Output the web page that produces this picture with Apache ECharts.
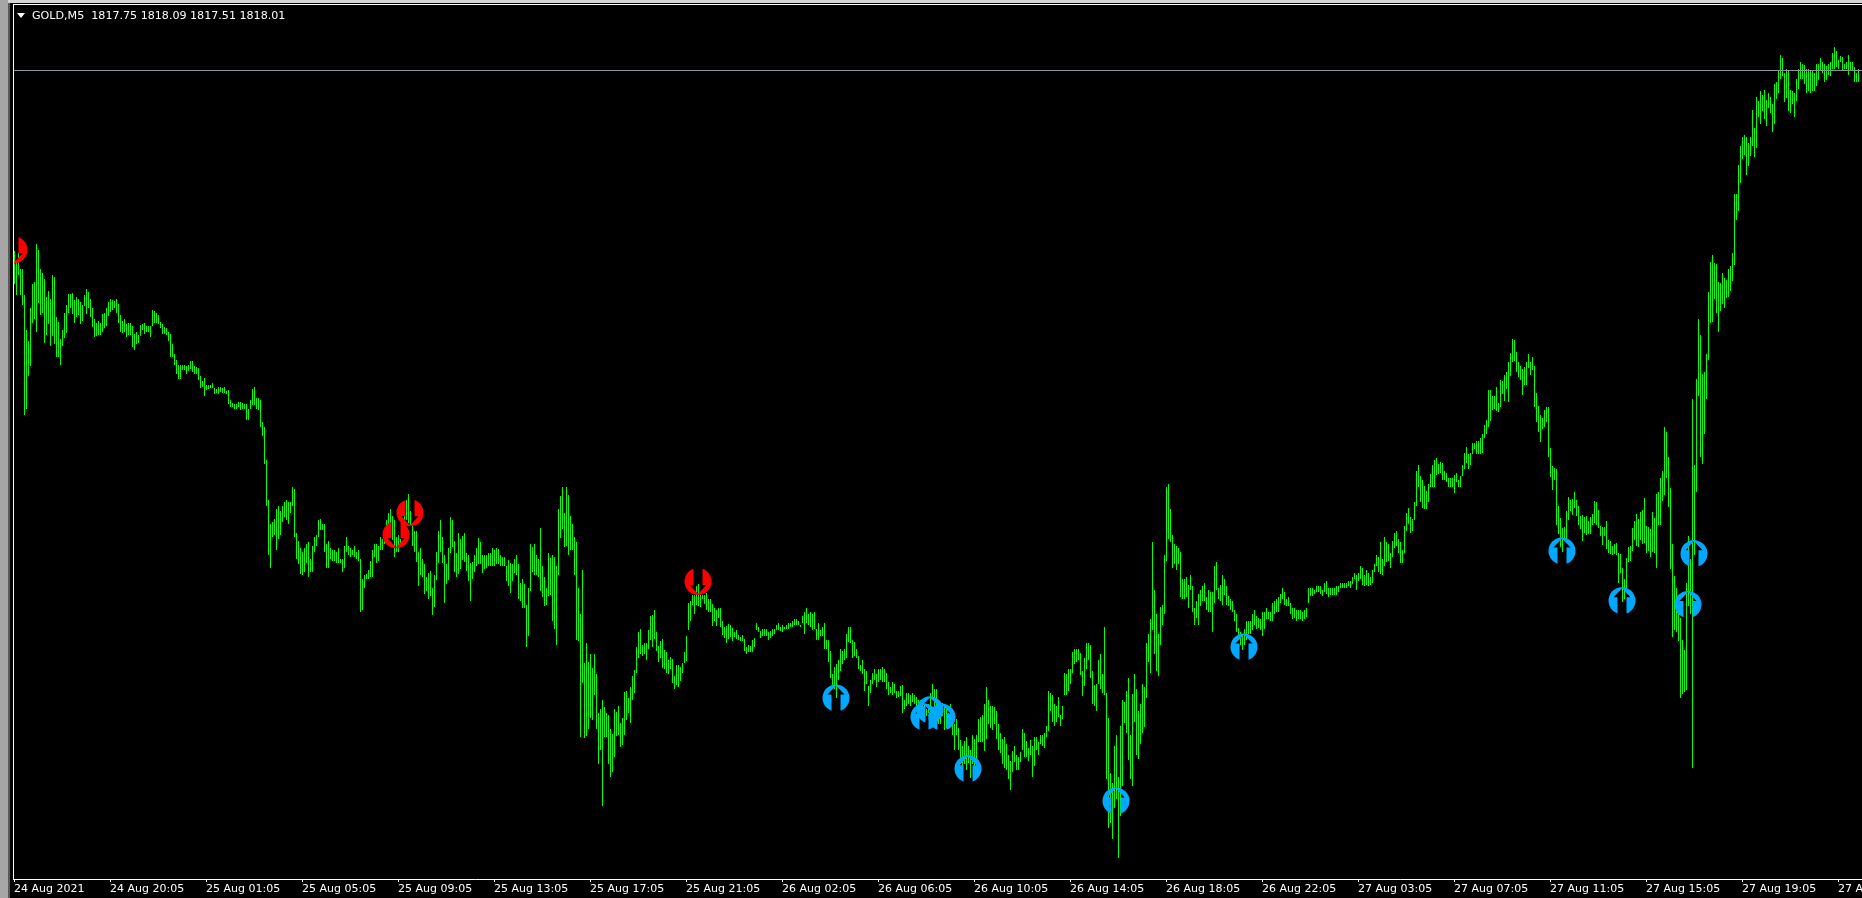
<!DOCTYPE html>
<html>
<head>
<meta charset="UTF-8">
<title>GOLD,M5</title>
<script src="https://cdn.jsdelivr.net/npm/echarts@6/dist/echarts.min.js"></script>
</head>
<body style="margin:0;background:#000;overflow:hidden;">
<div id="container" style="width:1862px;height:898px;"></div>
<script>
var titleText = 'GOLD,M5  1817.75 1818.09 1817.51 1818.01';
var bidPrice = 1818.01;
var tickLabels = ['24 Aug 2021','24 Aug 20:05','25 Aug 01:05','25 Aug 05:05','25 Aug 09:05','25 Aug 13:05','25 Aug 17:05','25 Aug 21:05','26 Aug 02:05','26 Aug 06:05','26 Aug 10:05','26 Aug 14:05','26 Aug 18:05','26 Aug 22:05','27 Aug 03:05','27 Aug 07:05','27 Aug 11:05','27 Aug 15:05','27 Aug 19:05','27 Aug 23:05'];

// [bar index, price]
var sellArrows = [[0,1809.84],[198,1797.89],[191,1796.89],[342,1794.77]];
var buyArrows = [[411,1789.51],[455,1788.65],[464,1788.64],[458,1788.97],[477,1786.29],[551,1784.83],[615,1791.83],[774,1796.19],[804,1793.93],[837,1793.76],[840,1796.07]];

// M5 bars, [high, low]
var highLow = [
[1809.81,1808.29],[1809.35,1807.79],[1809.70,1808.70],[1808.97,1807.79],[1808.97,1807.34],[1807.79,1802.34],[1806.20,1802.61],[1805.74,1804.15],[1807.20,1804.56],[1808.29,1806.52],
[1808.38,1806.74],[1810.15,1806.15],[1809.84,1807.43],[1808.97,1806.88],[1808.79,1806.97],[1808.52,1805.61],[1807.74,1805.97],[1807.97,1806.47],[1807.65,1805.47],[1808.70,1805.93],
[1808.65,1805.56],[1806.79,1804.97],[1806.56,1804.97],[1805.79,1804.61],[1806.24,1805.47],[1806.97,1805.84],[1807.34,1806.06],[1807.84,1806.97],[1807.84,1807.24],[1807.88,1806.93],
[1807.56,1806.52],[1807.70,1806.79],[1807.65,1806.88],[1807.47,1806.47],[1807.34,1806.61],[1807.79,1807.29],[1808.06,1806.93],[1807.93,1807.24],[1807.65,1806.79],[1807.24,1806.34],
[1806.74,1805.88],[1806.52,1805.93],[1806.65,1805.97],[1806.52,1805.97],[1806.93,1806.11],[1806.97,1806.29],[1807.20,1806.38],[1807.47,1806.84],[1807.65,1807.02],[1807.56,1807.11],
[1807.52,1807.20],[1807.61,1806.97],[1807.38,1806.52],[1806.88,1806.11],[1806.65,1806.06],[1806.74,1806.11],[1806.47,1805.88],[1806.52,1805.97],[1806.52,1805.97],[1806.38,1805.43],
[1806.02,1805.29],[1806.11,1805.56],[1805.97,1805.61],[1806.43,1805.93],[1806.47,1806.20],[1806.52,1806.02],[1806.38,1806.11],[1806.38,1806.15],[1806.38,1805.88],[1807.11,1806.38],
[1807.06,1806.52],[1806.97,1806.52],[1806.88,1806.47],[1806.56,1806.29],[1806.47,1806.02],[1806.34,1806.02],[1806.29,1805.97],[1806.15,1805.74],[1806.02,1804.97],[1805.56,1804.97],
[1805.11,1804.65],[1804.84,1804.20],[1804.61,1803.97],[1804.65,1803.97],[1804.61,1804.38],[1804.61,1804.38],[1804.56,1804.20],[1804.61,1804.34],[1804.79,1804.43],[1804.79,1804.29],
[1804.56,1804.24],[1804.52,1804.24],[1804.47,1803.93],[1804.11,1803.56],[1803.88,1803.65],[1804.02,1803.24],[1803.70,1803.47],[1803.70,1803.52],[1803.70,1803.56],[1803.79,1803.56],
[1803.56,1803.29],[1803.52,1803.34],[1803.65,1803.29],[1803.65,1803.38],[1803.56,1803.34],[1803.61,1803.34],[1803.43,1803.29],[1803.47,1802.84],[1803.02,1802.70],[1802.88,1802.70],
[1802.84,1802.65],[1802.84,1802.65],[1802.93,1802.74],[1802.93,1802.56],[1802.88,1802.65],[1802.84,1802.65],[1802.84,1802.11],[1802.65,1802.11],[1803.02,1802.65],[1803.52,1802.79],
[1803.61,1802.79],[1803.15,1802.61],[1803.15,1802.56],[1803.02,1801.79],[1802.02,1801.42],[1801.83,1800.11],[1800.29,1798.24],[1798.51,1795.97],[1797.42,1795.42],[1797.47,1796.83],
[1797.61,1796.88],[1798.06,1796.20],[1798.20,1796.70],[1797.97,1796.92],[1798.20,1797.51],[1798.38,1797.74],[1798.47,1797.56],[1798.38,1797.38],[1798.42,1797.92],[1799.06,1798.24],
[1799.01,1796.83],[1797.01,1795.79],[1796.61,1795.56],[1796.33,1795.11],[1796.15,1795.06],[1796.33,1795.20],[1796.51,1795.61],[1796.56,1795.01],[1795.79,1795.20],[1796.42,1795.24],
[1796.83,1796.15],[1796.92,1796.38],[1797.56,1796.79],[1797.65,1797.15],[1797.42,1797.15],[1797.42,1796.11],[1796.51,1795.38],[1796.61,1795.42],[1796.33,1795.83],[1796.24,1795.74],
[1796.24,1795.70],[1796.15,1795.65],[1796.33,1795.65],[1795.83,1795.65],[1795.79,1795.24],[1796.42,1795.42],[1796.79,1796.11],[1796.42,1796.01],[1796.29,1795.92],[1796.20,1796.01],
[1796.38,1795.92],[1796.11,1795.83],[1796.20,1795.74],[1795.83,1793.42],[1794.92,1793.47],[1795.06,1794.47],[1795.15,1794.88],[1795.29,1794.88],[1795.70,1794.97],[1796.20,1794.97],
[1796.47,1795.92],[1796.47,1795.65],[1796.42,1795.70],[1796.79,1796.24],[1796.70,1796.20],[1797.00,1796.47],[1797.60,1796.92],[1797.90,1796.92],[1798.10,1797.15],[1797.78,1796.69],
[1797.56,1795.92],[1796.83,1796.15],[1796.92,1796.15],[1796.74,1796.47],[1797.60,1797.37],[1797.75,1797.30],[1798.47,1797.60],[1798.78,1797.45],[1797.98,1797.30],[1797.30,1796.42],
[1797.10,1796.15],[1797.06,1795.69],[1796.15,1794.56],[1796.33,1795.06],[1795.83,1794.97],[1795.56,1794.24],[1795.01,1794.37],[1795.19,1793.97],[1795.28,1794.15],[1794.47,1793.28],
[1795.06,1793.65],[1796.15,1794.87],[1797.06,1795.65],[1797.60,1796.15],[1796.83,1795.65],[1796.01,1793.83],[1795.56,1794.69],[1796.33,1794.87],[1797.74,1796.06],[1797.56,1796.37],
[1796.65,1795.24],[1796.10,1794.97],[1796.97,1795.15],[1796.74,1795.37],[1796.87,1795.78],[1796.97,1795.69],[1796.06,1795.28],[1796.01,1794.83],[1795.65,1793.92],[1795.69,1794.92],
[1796.01,1795.24],[1796.33,1795.51],[1796.78,1795.60],[1796.56,1795.60],[1796.01,1795.19],[1796.01,1795.37],[1796.01,1795.42],[1796.10,1795.47],[1796.10,1795.51],[1796.33,1795.51],
[1796.24,1795.51],[1796.33,1795.56],[1796.28,1795.60],[1796.01,1795.51],[1795.92,1795.47],[1795.92,1795.47],[1795.51,1794.83],[1795.78,1794.60],[1795.65,1794.28],[1795.60,1794.83],
[1795.83,1795.19],[1795.97,1795.06],[1795.56,1793.97],[1794.74,1793.92],[1794.92,1793.56],[1794.69,1793.56],[1793.74,1791.83],[1794.47,1792.33],[1796.51,1794.37],[1796.37,1795.24],
[1796.51,1795.06],[1796.01,1795.06],[1795.83,1795.01],[1797.24,1794.37],[1795.47,1794.10],[1795.01,1793.69],[1794.51,1793.74],[1796.06,1794.15],[1795.87,1794.19],[1796.01,1792.97],
[1795.92,1792.65],[1795.51,1791.92],[1798.06,1795.06],[1798.69,1796.78],[1799.10,1797.19],[1797.92,1796.37],[1799.06,1796.42],[1798.74,1796.01],[1797.78,1796.24],[1797.42,1796.24],
[1796.83,1795.10],[1796.60,1792.15],[1794.51,1792.10],[1793.33,1787.74],[1795.33,1790.19],[1791.06,1787.69],[1792.01,1787.78],[1791.15,1788.10],[1791.47,1788.60],[1790.87,1788.51],
[1791.51,1789.65],[1790.60,1788.06],[1788.83,1786.51],[1788.97,1787.15],[1789.42,1784.56],[1789.10,1787.74],[1788.83,1787.74],[1788.74,1786.51],[1788.06,1785.92],[1787.87,1786.15],
[1788.97,1786.83],[1788.87,1787.78],[1789.15,1787.83],[1788.37,1787.28],[1788.56,1787.37],[1789.78,1787.83],[1789.83,1788.51],[1789.51,1788.83],[1789.97,1788.37],[1790.51,1789.42],
[1790.78,1789.74],[1791.83,1790.65],[1792.47,1791.33],[1792.65,1791.47],[1791.92,1791.42],[1792.01,1791.51],[1791.97,1791.24],[1792.60,1791.74],[1793.24,1792.15],[1793.28,1791.83],
[1793.51,1792.19],[1792.51,1791.65],[1791.87,1791.15],[1792.06,1791.33],[1792.19,1790.87],[1791.69,1790.83],[1791.60,1790.65],[1791.24,1790.56],[1791.37,1790.83],[1791.28,1790.19],
[1790.47,1789.92],[1791.01,1790.06],[1790.97,1789.97],[1790.92,1790.28],[1791.10,1790.65],[1791.56,1791.06],[1792.33,1791.19],[1793.83,1792.60],[1793.92,1793.01],[1794.19,1793.74],
[1794.19,1793.33],[1794.60,1793.74],[1794.69,1793.69],[1794.19,1793.65],[1794.19,1794.01],[1794.19,1793.78],[1794.27,1793.51],[1793.97,1793.42],[1794.01,1793.42],[1793.78,1792.78],
[1793.56,1792.97],[1793.51,1792.78],[1793.60,1793.15],[1793.60,1792.74],[1792.97,1792.37],[1792.74,1792.24],[1792.78,1791.97],[1792.87,1792.19],[1792.83,1792.28],[1792.69,1792.06],
[1792.51,1792.28],[1792.56,1792.19],[1792.37,1792.15],[1792.28,1792.06],[1792.37,1792.06],[1792.19,1791.65],[1791.83,1791.51],[1791.92,1791.60],[1791.87,1791.60],[1792.15,1791.60],
[1792.20,1791.83],[1792.88,1792.56],[1792.70,1792.47],[1792.52,1792.20],[1792.65,1792.33],[1792.65,1792.33],[1792.65,1792.33],[1792.47,1792.15],[1792.52,1792.24],[1792.61,1792.29],
[1792.65,1792.42],[1792.79,1792.56],[1792.92,1792.56],[1792.74,1792.52],[1792.79,1792.47],[1792.74,1792.61],[1792.79,1792.61],[1792.88,1792.65],[1792.88,1792.70],[1792.97,1792.74],
[1793.06,1792.83],[1793.06,1792.83],[1792.97,1792.79],[1792.79,1792.70],[1793.20,1792.88],[1793.38,1792.42],[1793.56,1792.88],[1793.29,1792.79],[1793.42,1792.74],[1793.33,1792.56],
[1793.38,1792.61],[1792.61,1792.15],[1792.92,1792.11],[1792.56,1792.33],[1792.74,1792.33],[1792.88,1791.70],[1792.15,1791.74],[1792.15,1791.11],[1791.65,1790.38],[1790.56,1790.06],
[1790.88,1789.88],[1791.02,1789.47],[1791.24,1790.33],[1791.70,1790.70],[1791.65,1791.02],[1791.70,1791.24],[1792.38,1791.29],[1792.74,1792.02],[1792.74,1791.97],[1792.11,1791.33],
[1792.02,1791.38],[1791.74,1791.29],[1791.42,1790.83],[1790.97,1790.74],[1791.24,1790.56],[1790.79,1789.79],[1790.74,1790.11],[1790.02,1789.15],[1790.33,1789.70],[1790.61,1790.11],
[1790.83,1790.29],[1790.56,1789.97],[1790.83,1790.20],[1790.83,1790.29],[1790.88,1790.24],[1790.79,1790.24],[1790.65,1789.88],[1790.24,1789.61],[1789.97,1789.70],[1790.20,1789.65],
[1790.11,1789.70],[1789.79,1789.47],[1789.83,1789.52],[1790.02,1789.56],[1790.06,1788.83],[1789.42,1788.97],[1789.70,1789.11],[1789.70,1789.20],[1789.65,1789.15],[1789.74,1789.33],
[1789.65,1789.20],[1789.52,1789.15],[1789.42,1788.97],[1789.38,1789.06],[1789.20,1788.74],[1789.20,1788.59],[1788.97,1788.67],[1789.20,1788.82],[1789.73,1789.12],[1790.15,1789.42],
[1789.88,1789.12],[1789.91,1788.97],[1789.42,1788.29],[1789.12,1788.29],[1789.27,1788.67],[1789.12,1788.02],[1788.97,1788.14],[1788.82,1788.29],[1789.20,1788.29],[1788.29,1787.83],
[1788.29,1787.15],[1788.52,1787.83],[1788.11,1787.11],[1787.56,1786.55],[1787.33,1786.24],[1787.52,1786.47],[1787.70,1786.24],[1787.29,1786.55],[1787.15,1785.86],[1787.83,1786.47],
[1787.65,1786.39],[1787.83,1786.65],[1788.52,1787.47],[1788.61,1787.47],[1788.74,1787.47],[1789.24,1787.06],[1789.97,1787.61],[1789.38,1788.33],[1789.15,1788.11],[1789.11,1788.02],
[1789.06,1788.33],[1788.88,1787.65],[1788.29,1787.15],[1787.88,1786.97],[1787.61,1786.47],[1787.74,1786.33],[1787.38,1786.24],[1786.92,1785.79],[1786.65,1785.29],[1787.06,1786.15],
[1787.29,1786.56],[1786.88,1786.20],[1786.79,1786.24],[1787.02,1786.56],[1788.06,1787.15],[1787.92,1786.83],[1787.52,1786.79],[1787.24,1786.61],[1787.56,1786.92],[1787.29,1785.92],
[1787.74,1786.42],[1787.74,1787.11],[1787.47,1786.88],[1787.79,1787.38],[1787.79,1787.29],[1787.88,1787.20],[1788.24,1787.74],[1789.79,1787.97],[1789.74,1788.92],[1789.61,1788.38],
[1789.20,1788.20],[1789.11,1788.42],[1789.52,1788.61],[1788.74,1788.24],[1789.15,1788.52],[1790.61,1789.61],[1790.56,1789.65],[1790.79,1789.79],[1790.83,1790.15],[1791.56,1790.61],
[1791.74,1791.02],[1791.74,1791.11],[1791.74,1791.20],[1791.52,1790.52],[1790.74,1789.56],[1791.33,1790.02],[1791.97,1790.79],[1791.97,1791.24],[1791.88,1790.38],[1790.70,1789.24],
[1790.06,1789.15],[1790.11,1788.88],[1791.20,1790.11],[1791.47,1789.92],[1790.56,1789.70],[1792.74,1789.65],[1789.74,1785.79],[1788.56,1783.56],[1786.06,1783.83],[1785.65,1783.06],
[1787.29,1784.47],[1787.83,1784.88],[1785.88,1782.20],[1788.21,1784.12],[1789.42,1785.49],[1789.29,1788.36],[1789.79,1787.88],[1790.42,1786.69],[1787.83,1785.79],[1789.69,1785.51],
[1790.60,1788.42],[1789.92,1786.88],[1788.88,1786.74],[1789.24,1787.42],[1790.15,1787.92],[1790.01,1788.19],[1792.01,1789.51],[1792.38,1791.15],[1793.06,1790.65],[1796.60,1792.60],
[1794.42,1791.51],[1793.29,1790.74],[1792.42,1790.47],[1793.65,1791.88],[1793.74,1792.83],[1795.97,1793.29],[1799.06,1795.74],[1799.24,1796.74],[1798.06,1796.60],[1796.92,1795.42],
[1796.51,1795.56],[1796.38,1795.29],[1796.33,1795.56],[1796.15,1794.10],[1794.88,1793.97],[1794.92,1794.01],[1795.01,1794.06],[1794.65,1793.56],[1795.06,1794.42],[1794.56,1793.38],
[1793.56,1792.79],[1793.88,1793.15],[1794.24,1792.83],[1794.42,1793.69],[1794.56,1793.88],[1794.74,1793.92],[1794.10,1793.51],[1794.38,1793.42],[1794.29,1793.38],[1794.33,1792.51],
[1795.47,1793.83],[1795.69,1794.42],[1794.51,1793.97],[1794.65,1793.92],[1795.06,1793.74],[1794.92,1794.19],[1794.60,1793.74],[1794.15,1793.69],[1794.01,1793.51],[1793.92,1793.42],
[1793.51,1792.97],[1793.33,1792.51],[1792.69,1792.15],[1792.51,1791.92],[1792.38,1791.69],[1792.65,1791.92],[1792.97,1792.15],[1792.97,1792.38],[1792.97,1792.42],[1793.33,1792.60],
[1793.51,1792.83],[1793.24,1792.65],[1793.15,1792.69],[1793.10,1792.60],[1793.38,1792.29],[1793.38,1792.65],[1793.60,1793.06],[1793.42,1793.06],[1793.38,1792.97],[1793.79,1792.97],
[1793.92,1793.33],[1794.01,1793.42],[1794.06,1793.42],[1794.24,1793.83],[1794.47,1793.97],[1794.29,1793.74],[1794.01,1793.69],[1794.06,1793.69],[1793.83,1793.33],[1793.56,1793.06],
[1793.60,1793.15],[1793.47,1793.01],[1793.47,1793.06],[1793.47,1793.10],[1793.42,1792.97],[1793.47,1793.10],[1793.60,1793.19],[1794.47,1793.83],[1794.47,1794.15],[1794.47,1794.15],
[1794.42,1794.24],[1794.56,1794.33],[1794.56,1794.33],[1794.56,1794.24],[1794.38,1794.15],[1794.74,1794.29],[1794.79,1794.24],[1794.47,1794.10],[1794.47,1794.19],[1794.51,1794.19],
[1794.51,1794.19],[1794.56,1794.19],[1794.60,1794.33],[1794.74,1794.47],[1794.74,1794.51],[1794.74,1794.51],[1794.74,1794.51],[1794.83,1794.56],[1794.83,1794.47],[1795.01,1794.69],
[1795.19,1794.92],[1795.10,1794.42],[1795.19,1794.83],[1795.47,1794.88],[1795.38,1794.65],[1795.06,1794.60],[1795.33,1794.65],[1795.19,1794.56],[1795.01,1794.65],[1795.33,1794.74],
[1795.56,1795.24],[1796.01,1795.51],[1795.92,1795.24],[1796.60,1795.15],[1795.79,1795.06],[1796.79,1795.51],[1796.60,1795.69],[1796.47,1795.74],[1796.10,1795.42],[1796.65,1795.88],
[1797.01,1796.33],[1797.06,1796.38],[1796.74,1796.06],[1796.60,1795.65],[1796.24,1795.65],[1797.33,1796.10],[1797.92,1797.06],[1798.15,1797.42],[1797.74,1797.01],[1797.65,1797.06],
[1798.42,1797.60],[1799.83,1798.24],[1800.10,1799.06],[1799.56,1798.38],[1799.42,1798.15],[1799.15,1798.10],[1798.92,1798.06],[1799.24,1798.42],[1799.69,1799.06],[1800.10,1799.10],
[1800.29,1799.10],[1800.38,1799.65],[1800.15,1799.69],[1800.24,1799.74],[1800.19,1799.42],[1799.79,1799.42],[1799.74,1799.29],[1799.51,1799.06],[1799.51,1799.06],[1799.47,1799.06],
[1799.65,1798.83],[1799.74,1799.33],[1799.42,1799.10],[1799.60,1799.10],[1800.06,1799.56],[1800.65,1799.92],[1800.92,1800.19],[1800.60,1799.92],[1800.65,1800.06],[1801.10,1800.56],
[1801.06,1800.79],[1801.19,1800.60],[1801.19,1800.56],[1801.29,1800.60],[1801.47,1800.65],[1801.88,1801.33],[1802.15,1801.51],[1803.51,1801.83],[1803.51,1802.06],[1803.24,1802.60],
[1803.21,1802.65],[1803.62,1802.54],[1802.90,1802.49],[1803.93,1802.70],[1803.88,1803.31],[1804.19,1803.01],[1804.29,1803.52],[1804.75,1802.95],[1805.16,1804.13],[1805.83,1804.75],
[1805.78,1804.80],[1805.21,1804.29],[1804.75,1804.08],[1804.60,1803.93],[1804.44,1803.26],[1804.54,1803.72],[1804.75,1803.72],[1805.11,1804.49],[1804.75,1804.19],[1805.01,1804.39],
[1804.60,1802.70],[1803.36,1802.03],[1802.75,1801.57],[1802.34,1801.11],[1802.24,1801.72],[1802.59,1801.83],[1802.70,1802.03],[1802.70,1800.44],[1800.85,1799.52],[1800.03,1798.95],
[1799.93,1799.41],[1799.88,1797.36],[1798.23,1796.95],[1797.67,1796.34],[1797.21,1796.13],[1797.26,1796.69],[1797.98,1796.69],[1798.64,1797.57],[1798.49,1797.98],[1798.54,1797.82],
[1798.85,1798.13],[1798.49,1797.77],[1798.23,1797.36],[1797.77,1797.16],[1797.82,1796.64],[1797.72,1797.00],[1797.77,1796.90],[1797.52,1796.95],[1797.72,1796.95],[1797.87,1797.36],
[1798.44,1797.46],[1798.39,1797.36],[1798.03,1797.21],[1797.31,1796.85],[1797.26,1796.44],[1797.26,1796.85],[1797.52,1796.28],[1796.69,1796.08],[1796.64,1796.03],[1796.39,1795.98],
[1796.49,1796.03],[1796.54,1795.98],[1796.08,1794.74],[1796.03,1795.16],[1795.41,1793.87],[1794.90,1793.97],[1795.87,1794.39],[1796.34,1795.67],[1796.39,1795.72],[1797.21,1796.18],
[1797.52,1796.69],[1797.87,1796.39],[1797.62,1796.34],[1797.93,1796.69],[1798.03,1796.49],[1798.59,1796.54],[1797.31,1796.08],[1797.26,1796.18],[1797.16,1795.92],[1797.93,1796.13],
[1797.67,1796.08],[1798.75,1795.41],[1798.85,1797.36],[1799.47,1797.36],[1799.82,1798.44],[1801.83,1798.70],[1801.57,1799.47],[1800.44,1798.18],[1799.05,1795.36],[1796.49,1792.28],
[1795.05,1792.59],[1794.49,1792.49],[1793.36,1792.08],[1793.15,1789.51],[1792.13,1789.67],[1791.67,1789.77],[1794.74,1789.87],[1796.85,1793.67],[1795.82,1793.31],[1803.06,1786.33],
[1800.08,1795.98],[1803.98,1798.85],[1806.70,1803.21],[1805.98,1800.44],[1804.24,1800.13],[1804.29,1801.47],[1805.11,1803.06],[1807.93,1804.85],[1809.32,1806.55],[1809.62,1806.60],
[1809.26,1807.62],[1809.21,1807.01],[1808.39,1806.14],[1808.34,1807.06],[1808.80,1807.42],[1808.60,1807.21],[1808.50,1807.67],[1809.01,1807.73],[1809.11,1807.98],[1809.73,1808.44],
[1812.40,1809.16],[1812.40,1811.21],[1813.74,1811.63],[1814.60,1812.88],[1814.97,1814.01],[1815.10,1814.19],[1814.97,1813.28],[1814.74,1813.69],[1815.01,1814.15],[1816.24,1814.56],
[1815.42,1814.10],[1816.83,1814.47],[1816.65,1815.92],[1817.10,1815.56],[1816.92,1816.19],[1817.15,1815.83],[1816.69,1815.51],[1816.97,1816.33],[1816.83,1816.06],[1816.47,1815.24],
[1817.38,1815.60],[1817.51,1816.74],[1817.97,1816.97],[1818.74,1817.65],[1818.60,1817.78],[1817.92,1816.56],[1818.10,1816.78],[1818.01,1816.19],[1817.15,1816.10],[1817.10,1816.47],
[1817.01,1815.92],[1817.65,1816.65],[1818.06,1817.19],[1818.38,1817.65],[1818.33,1817.65],[1818.28,1817.38],[1818.06,1817.01],[1818.10,1817.10],[1817.97,1816.97],[1817.97,1817.06],
[1817.88,1817.10],[1818.33,1817.33],[1818.33,1817.60],[1818.60,1818.01],[1818.42,1817.88],[1818.33,1817.51],[1818.24,1817.56],[1818.33,1817.83],[1818.42,1817.78],[1818.83,1818.10],
[1819.06,1818.06],[1818.92,1818.19],[1818.51,1818.06],[1818.69,1818.38],[1818.65,1817.97],[1818.33,1818.06],[1818.38,1818.06],[1818.74,1817.83],[1818.38,1818.01],[1818.38,1817.97],
[1818.19,1817.47],[1817.92,1817.47],[1818.09,1817.51]
];

var axisSlots = 925;
var categories = [];
for (var s = 0; s < axisSlots; s++) {
    categories.push(s % 48 === 0 ? tickLabels[s / 48] : '');
}

// circle with the arrow cut out of it, opening at the tail
var buyPath = 'path://M-4.5 12.73A13.5 13.5 0 1 1 4.5 12.73L4.5 -3.5L8.5 -3.5L0 -12.4L-8.5 -3.5L-4.5 -3.5Z';
var sellPath = 'path://M-4.5 -12.73A13.5 13.5 0 1 0 4.5 -12.73L4.5 3.5L8.5 3.5L0 12.4L-8.5 3.5L-4.5 3.5Z';

var dom = document.getElementById('container');
var myChart = echarts.init(dom);

function renderBar(params, api) {
    var top = api.coord([api.value(0), api.value(1)]);
    var bottom = api.coord([api.value(0), api.value(2)]);
    var x = Math.round(top[0]);
    var y = Math.round(top[1]);
    return {
        type: 'rect',
        shape: { x: x, y: y, width: 1, height: Math.max(1, Math.round(bottom[1]) - y) },
        style: { fill: '#00ff00' }
    };
}

var option = {
    animation: false,
    backgroundColor: '#000000',
    textStyle: { fontFamily: 'DejaVu Sans' },
    title: {
        text: titleText,
        left: 32,
        top: 11,
        padding: 0,
        textStyle: { color: '#ffffff', fontSize: 11.1, fontWeight: 'normal', fontFamily: 'DejaVu Sans' }
    },
    grid: { left: 14, right: 0, top: 7, bottom: 19, outerBoundsMode: 'none' },
    xAxis: {
        type: 'category',
        data: categories,
        boundaryGap: false,
        axisLine: { lineStyle: { color: '#ffffff', width: 1 } },
        axisTick: { interval: 47, length: 3, lineStyle: { color: '#ffffff' } },
        axisLabel: {
            interval: 47,
            color: '#ffffff',
            fontSize: 11,
            fontFamily: 'DejaVu Sans',
            align: 'left',
            margin: 5,
            hideOverlap: false
        },
        splitLine: { show: false }
    },
    yAxis: {
        type: 'value',
        min: 1781.264,
        max: 1820.90,
        show: false,
        splitLine: { show: false }
    },
    graphic: [
        // left of the chart the window frame hides the part of a marker that runs off the plot
        { type: 'rect', silent: true, z: 100, shape: { x: 0, y: 0, width: 8, height: 898 }, style: { fill: '#a6a6a6' } },
        { type: 'rect', silent: true, z: 100, shape: { x: 8, y: 0, width: 2, height: 898 }, style: { fill: '#5a5a5a' } },
        { type: 'rect', silent: true, z: 100, shape: { x: 10, y: 3, width: 3, height: 895 }, style: { fill: '#000000' } },
        { type: 'rect', silent: true, z: 100, shape: { x: 8, y: 0, width: 1854, height: 3 }, style: { fill: '#d4d4d4' } },
        { type: 'rect', silent: true, z: 100, shape: { x: 13, y: 4, width: 1849, height: 1 }, style: { fill: '#ffffff' } },
        { type: 'rect', silent: true, z: 100, shape: { x: 13, y: 4, width: 1, height: 876 }, style: { fill: '#ffffff' } },
        { type: 'polygon', silent: true, z: 100, shape: { points: [[17, 13], [25, 13], [21, 18]] }, style: { fill: '#ffffff' } }
    ],
    series: [
        {
            type: 'custom',
            name: 'GOLD,M5',
            coordinateSystem: 'cartesian2d',
            renderItem: renderBar,
            encode: { x: 0, y: [1, 2] },
            data: highLow.map(function (d, i) { return [i, d[0], d[1]]; }),
            silent: true,
            z: 2,
            markLine: {
                silent: true,
                symbol: 'none',
                label: { show: false },
                lineStyle: { color: '#8c96a3', width: 1, type: 'solid' },
                data: [{ yAxis: bidPrice }]
            }
        },
        {
            type: 'scatter',
            name: 'sell',
            data: sellArrows,
            symbol: sellPath,
            symbolSize: [27, 26.2],
            itemStyle: { color: '#ff0000', opacity: 1 },
            silent: true,
            z: 3
        },
        {
            type: 'scatter',
            name: 'buy',
            data: buyArrows,
            symbol: buyPath,
            symbolSize: [27, 26.2],
            itemStyle: { color: '#00a8ff', opacity: 1 },
            silent: true,
            z: 3
        }
    ]
};

if (option && typeof option === 'object') {
    myChart.setOption(option);
}
</script>
</body>
</html>
